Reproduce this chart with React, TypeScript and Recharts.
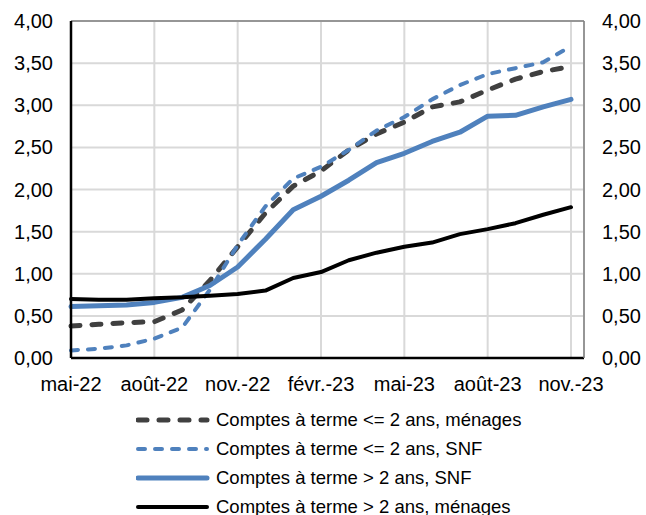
import React from "react";
import {
  LineChart,
  Line,
  XAxis,
  YAxis,
  CartesianGrid,
  Legend,
  ReferenceLine,
} from "recharts";

const months = [
  "mai-22", "juin-22", "juil.-22", "août-22", "sept.-22", "oct.-22", "nov.-22",
  "déc.-22", "janv.-23", "févr.-23", "mars-23", "avr.-23", "mai-23", "juin-23",
  "juil.-23", "août-23", "sept.-23", "oct.-23", "nov.-23",
];

// Comptes à terme <= 2 ans, ménages
const menagesCourt = [0.38, 0.4, 0.42, 0.43, 0.57, 0.92, 1.32, 1.72, 2.04, 2.22, 2.47, 2.66, 2.8, 2.98, 3.04, 3.18, 3.31, 3.4, 3.46];
// Comptes à terme <= 2 ans, SNF
const snfCourt = [0.09, 0.11, 0.15, 0.23, 0.36, 0.81, 1.34, 1.8, 2.13, 2.27, 2.47, 2.7, 2.86, 3.07, 3.24, 3.37, 3.44, 3.51, 3.7];
// Comptes à terme > 2 ans, SNF
const snfLong = [0.61, 0.62, 0.63, 0.66, 0.72, 0.86, 1.08, 1.41, 1.76, 1.92, 2.11, 2.32, 2.43, 2.57, 2.68, 2.87, 2.88, 2.98, 3.07];
// Comptes à terme > 2 ans, ménages
const menagesLong = [0.7, 0.69, 0.69, 0.71, 0.72, 0.74, 0.76, 0.8, 0.95, 1.02, 1.16, 1.25, 1.32, 1.37, 1.47, 1.53, 1.6, 1.7, 1.79];

const yTicks = [0, 0.5, 1, 1.5, 2, 2.5, 3, 3.5, 4];

const FONT = '"Liberation Sans", Arial, sans-serif';

// the black series sits on the right axis (same 0-4 scale) so that axis gets drawn
const SERIES = [
  { key: "menagesCourt", name: "Comptes à terme <= 2 ans, ménages", color: "#404040", width: 5, dash: "9 12", axis: "left" },
  { key: "snfCourt", name: "Comptes à terme <= 2 ans, SNF", color: "#4f81bd", width: 4, dash: "7 10", axis: "left" },
  { key: "snfLong", name: "Comptes à terme > 2 ans, SNF", color: "#4f81bd", width: 5, dash: undefined, axis: "left" },
  { key: "menagesLong", name: "Comptes à terme > 2 ans, ménages", color: "#000000", width: 4, dash: undefined, axis: "right" },
];

const data = months.map((m, i) => ({
  month: m,
  menagesCourt: menagesCourt[i],
  snfCourt: snfCourt[i],
  snfLong: snfLong[i],
  menagesLong: menagesLong[i],
}));

const fmt = (v: number) => v.toFixed(2).replace(".", ",");

function LegendBox() {
  return (
    <div style={{ fontFamily: FONT, fontSize: 18.5, color: "#000" }}>
      {SERIES.map((s) => (
        <div key={s.key} style={{ display: "flex", alignItems: "center", height: 28.8 }}>
          <svg width={74} height={10} style={{ marginRight: 6 }}>
            <line
              x1={2}
              y1={5}
              x2={71}
              y2={5}
              stroke={s.color}
              strokeWidth={s.width}
              strokeDasharray={s.dash}
              strokeLinecap="round"
            />
          </svg>
          <span style={{ whiteSpace: "nowrap" }}>{s.name}</span>
        </div>
      ))}
    </div>
  );
}

export default function App() {
  const tickStyle = { fontFamily: FONT, fontSize: 20, fill: "#000" };
  return (
    <div style={{ position: "absolute", left: 0, top: 0, background: "#fff" }}>
      <LineChart width={646} height={515} data={data} margin={{ top: 21, right: 0, left: 0, bottom: 117 }}>
        <CartesianGrid stroke="#d9d9d9" strokeWidth={2} yAxisId="left" />
        <XAxis
          dataKey="month"
          interval={2}
          height={40}
          padding={{ left: 0, right: 13 }}
          tick={tickStyle}
          tickLine={false}
          tickSize={0}
          tickMargin={19}
          axisLine={{ stroke: "#000", strokeWidth: 2.5 }}
        />
        <YAxis
          yAxisId="left"
          domain={[0, 4]}
          ticks={yTicks}
          tickFormatter={fmt}
          width={71}
          tick={tickStyle}
          tickLine={false}
          tickSize={0}
          tickMargin={18}
          axisLine={{ stroke: "#000", strokeWidth: 2.5 }}
        />
        <YAxis
          yAxisId="right"
          orientation="right"
          domain={[0, 4]}
          ticks={yTicks}
          tickFormatter={fmt}
          width={62}
          tick={tickStyle}
          tickLine={false}
          tickSize={0}
          tickMargin={18}
          axisLine={{ stroke: "#7f7f7f", strokeWidth: 1.5 }}
        />
        <ReferenceLine yAxisId="left" y={4} stroke="#7f7f7f" strokeWidth={1.5} />
        {SERIES.map((s) => (
          <Line
            key={s.key}
            yAxisId={s.axis}
            type="linear"
            dataKey={s.key}
            name={s.name}
            stroke={s.color}
            strokeWidth={s.width}
            strokeDasharray={s.dash}
            strokeLinecap="round"
            strokeLinejoin="round"
            dot={false}
            activeDot={false}
            isAnimationActive={false}
          />
        ))}
        <Legend
          layout="vertical"
          verticalAlign="middle"
          align="center"
          content={<LegendBox />}
          wrapperStyle={{ top: 406, left: 136, width: 450 }}
        />
      </LineChart>
    </div>
  );
}
